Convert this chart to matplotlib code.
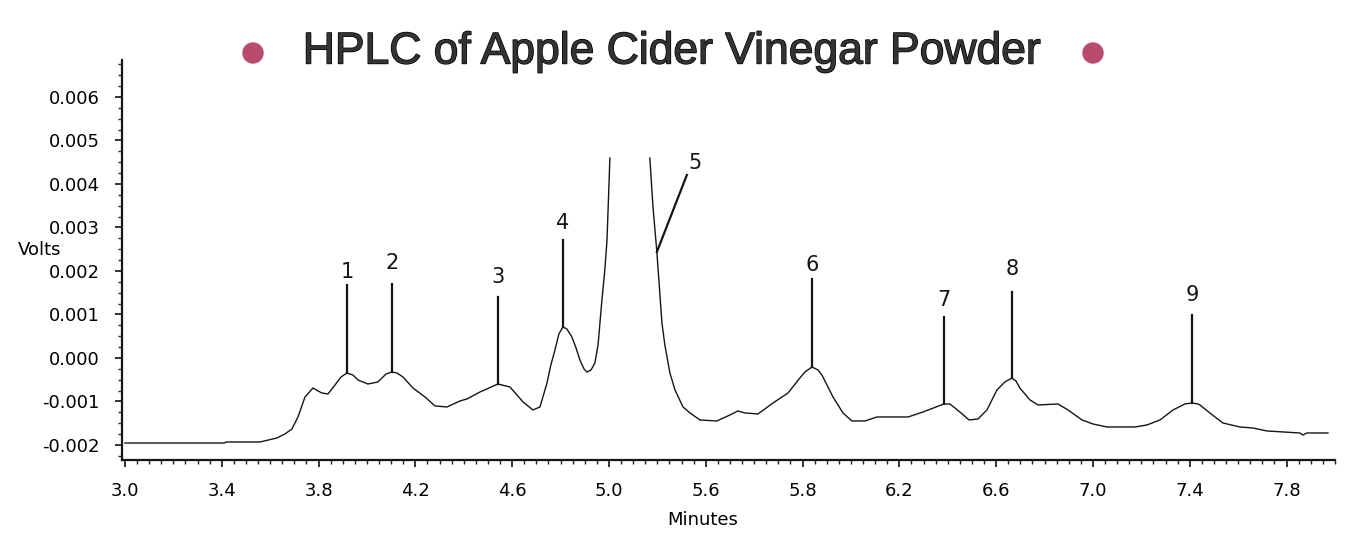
#!/usr/bin/env python3
# -*- coding: utf-8 -*-
"""HPLC chromatogram of apple cider vinegar powder"""

import numpy as np
import matplotlib
matplotlib.use('Agg')
import matplotlib.pyplot as plt
import matplotlib.patheffects as pe
from matplotlib.patches import Ellipse
from matplotlib.ticker import MultipleLocator

# Trace (minutes, volts in mV). NaN = clipped main peak (5)
minutes = [3.000, 3.413, 3.417, 3.558, 3.628, 3.661, 3.690, 3.715, 3.744, 3.777,
           3.798, 3.814, 3.839, 3.868, 3.893, 3.917, 3.942, 3.963, 4.004, 4.045,
           4.079, 4.103, 4.124, 4.149, 4.190, 4.240, 4.281, 4.331, 4.384, 4.413,
           4.467, 4.541, 4.591, 4.645, 4.686, 4.715, 4.744, 4.760, 4.777, 4.793,
           4.810, 4.826, 4.847, 4.864, 4.880, 4.897, 4.909, 4.926, 4.942, 4.955,
           4.971, 4.983, 4.992, 5.004, np.nan, 5.169, 5.182, 5.198, 5.219, 5.231,
           5.252, 5.273, 5.306, 5.335, 5.376, 5.446, 5.500, 5.533, 5.562, 5.616,
           5.678, 5.740, 5.789, 5.810, 5.839, 5.864, 5.880, 5.926, 5.967, 6.004,
           6.058, 6.107, 6.236, 6.298, 6.384, 6.409, 6.450, 6.488, 6.525, 6.562,
           6.603, 6.636, 6.665, 6.682, 6.698, 6.740, 6.773, 6.855, 6.897, 6.955,
           7.000, 7.058, 7.174, 7.223, 7.277, 7.331, 7.380, 7.409, 7.434, 7.442,
           7.483, 7.537, 7.607, 7.661, 7.719, 7.855, 7.868, 7.884, 7.971]
volts_mv = [-1.954, -1.954, -1.931, -1.931, -1.839, -1.747, -1.632, -1.356, -0.897, -0.690,
            -0.759, -0.805, -0.828, -0.621, -0.437, -0.345, -0.391, -0.506, -0.598, -0.552,
            -0.368, -0.322, -0.345, -0.437, -0.690, -0.897, -1.103, -1.126, -0.989, -0.943,
            -0.782, -0.598, -0.667, -1.011, -1.195, -1.126, -0.575, -0.161, 0.184, 0.552,
            0.713, 0.667, 0.483, 0.230, -0.046, -0.253, -0.322, -0.276, -0.115, 0.299,
            1.333, 2.023, 2.713, 4.598, np.nan, 4.598, 3.471, 2.437, 0.805, 0.299,
            -0.345, -0.736, -1.126, -1.264, -1.425, -1.448, -1.310, -1.218, -1.264, -1.287,
            -1.034, -0.805, -0.460, -0.322, -0.207, -0.276, -0.391, -0.897, -1.264, -1.448,
            -1.448, -1.356, -1.356, -1.241, -1.057, -1.057, -1.241, -1.425, -1.402, -1.195,
            -0.736, -0.552, -0.460, -0.529, -0.690, -0.966, -1.080, -1.057, -1.195, -1.425,
            -1.517, -1.586, -1.586, -1.540, -1.425, -1.195, -1.057, -1.034, -1.057, -1.080,
            -1.264, -1.494, -1.586, -1.609, -1.678, -1.724, -1.770, -1.724, -1.724]

# Peak markers: label, retention time, tip (mV), line top (mV), label y (mV)
peak_labels = ['1', '2', '3', '4', '6', '7', '8', '9']
peak_times = [3.917, 4.103, 4.541, 4.810, 5.839, 6.384, 6.665, 7.409]
peak_tips = [-0.345, -0.322, -0.598, 0.713, -0.207, -1.057, -0.460, -1.034]
peak_tops = [1.678, 1.701, 1.402, 2.713, 1.816, 0.943, 1.517, 0.989]
peak_label_y = [1.977, 2.184, 1.862, 3.103, 2.138, 1.333, 2.046, 1.448]
# peak 5 has a slanted leader line
peak5_line_x = [5.198, 5.322]
peak5_line_y = [2.437, 4.207]
peak5_label = (5.355, 4.483)

x_ticks = [3.0, 3.4, 3.8, 4.2, 4.6, 5.0, 5.4, 5.8, 6.2, 6.6, 7.0, 7.4, 7.8]
x_tick_labels = ['3.0', '3.4', '3.8', '4.2', '4.6', '5.0', '5.6', '5.8',
                 '6.2', '6.6', '7.0', '7.4', '7.8']
y_ticks = [-0.002, -0.001, 0.000, 0.001, 0.002, 0.003, 0.004, 0.005, 0.006]


def main():
    fig = plt.figure(figsize=(13.64, 5.36), dpi=100)
    ax = fig.add_axes([0.0894, 0.1418, 0.8893, 0.7463])

    x = np.array(minutes)
    y = np.array(volts_mv) * 1e-3
    ax.plot(x, y, color='#151515', linewidth=1.0, solid_joinstyle='round')

    # peak markers
    for lab, t, tip, top, ly in zip(peak_labels, peak_times, peak_tips,
                                    peak_tops, peak_label_y):
        ax.plot([t, t], [tip * 1e-3, top * 1e-3], color='#151515', linewidth=1.6)
        ax.text(t, ly * 1e-3, lab, ha='center', va='center', fontsize=15,
                color='#151515')
    ax.plot(peak5_line_x, np.array(peak5_line_y) * 1e-3, color='#151515',
            linewidth=1.6)
    ax.text(peak5_label[0], peak5_label[1] * 1e-3, '5', ha='center',
            va='center', fontsize=15, color='#151515')

    ax.set_xlim(2.9876, 8.0)
    ax.set_ylim(-0.002345, 0.00685)

    ax.set_xticks(x_ticks)
    ax.set_xticklabels(x_tick_labels, fontsize=13)
    ax.set_yticks(y_ticks)
    ax.set_yticklabels(['%.3f' % v for v in y_ticks], fontsize=13)
    ax.xaxis.set_minor_locator(MultipleLocator(0.05))
    ax.yaxis.set_minor_locator(MultipleLocator(0.00025))
    ax.tick_params(axis='both', which='major', direction='out', length=5,
                   width=1.3, color='#222222')
    ax.tick_params(axis='both', which='minor', direction='out', length=3,
                   width=1.0, color='#222222')
    ax.tick_params(axis='x', which='major', pad=11)
    ax.tick_params(axis='y', which='major', pad=11)

    for side in ['top', 'right']:
        ax.spines[side].set_visible(False)
    for side in ['left', 'bottom']:
        ax.spines[side].set_linewidth(1.6)
        ax.spines[side].set_color('#151515')

    ax.set_xlabel('Minutes', fontsize=13)
    ax.xaxis.set_label_coords(0.479, -0.128)
    fig.text(40 / 1364, 1 - 250 / 536, 'Volts', ha='center', va='center',
             fontsize=13)

    # title with outline and decorative dots
    fig.text(672 / 1364, 1 - 52 / 536, 'HPLC of Apple Cider Vinegar Powder',
             ha='center', va='center', fontsize=32,
             family=['Liberation Sans', 'DejaVu Sans'], color='#333333',
             path_effects=[pe.withStroke(linewidth=1.0, foreground='#000000')])
    for cx in [253, 1093]:
        fig.add_artist(Ellipse((cx / 1364, 1 - 53 / 536), 20 / 1364, 20 / 536,
                               transform=fig.transFigure, color='#b84a6c'))

    plt.savefig('out.png', dpi=100)
    plt.close()


if __name__ == "__main__":
    main()
